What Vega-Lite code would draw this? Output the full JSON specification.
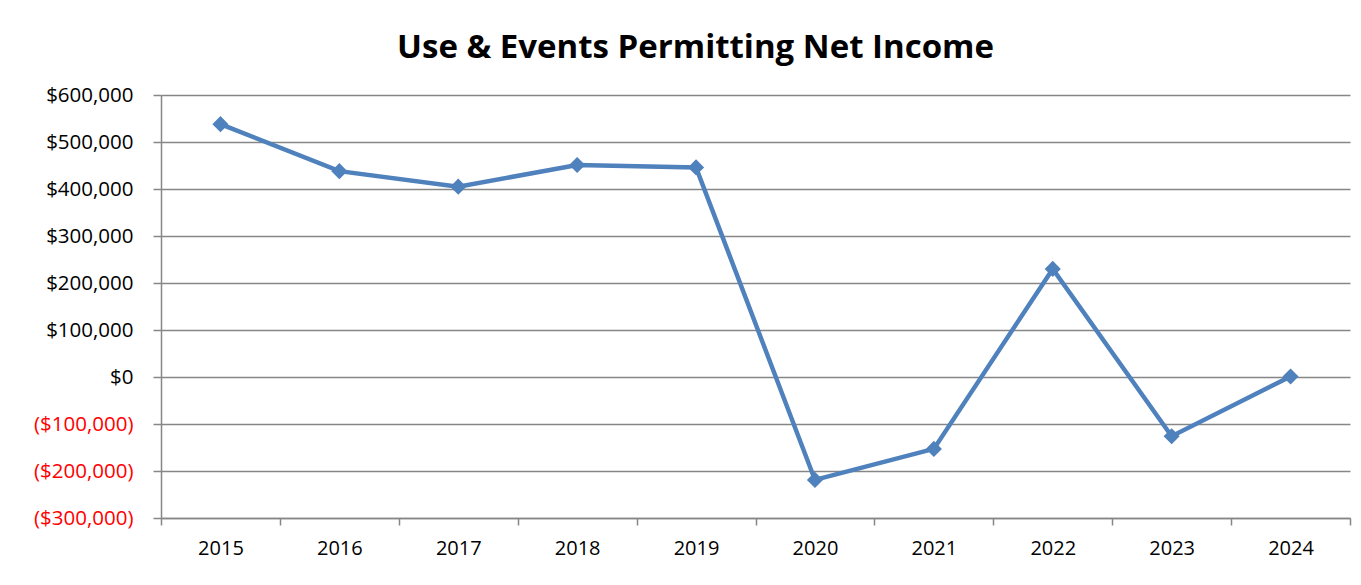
{
  "$schema": "https://vega.github.io/schema/vega-lite/v6.json",
  "autosize": {"type": "none"},
  "width": 1189,
  "height": 423,
  "padding": {"left": 161, "top": 95, "right": 11, "bottom": 67},
  "background": "white",
  "title": {
    "text": "Use & Events Permitting Net Income",
    "font": "Open Sans",
    "fontSize": 33,
    "fontWeight": "bold",
    "color": "black",
    "anchor": "middle",
    "dx": -60,
    "offset": 20
  },
  "data": {
    "values": [
      {"year": "2015", "income": 538000},
      {"year": "2016", "income": 438000},
      {"year": "2017", "income": 405000},
      {"year": "2018", "income": 451000},
      {"year": "2019", "income": 446000},
      {"year": "2020", "income": -219000},
      {"year": "2021", "income": -153000},
      {"year": "2022", "income": 230000},
      {"year": "2023", "income": -126000},
      {"year": "2024", "income": 1000}
    ]
  },
  "encoding": {
    "x": {
      "field": "year",
      "type": "ordinal",
      "scale": {"paddingInner": 0, "paddingOuter": 0},
      "axis": {
        "title": null,
        "labelAngle": 0,
        "tickBand": "extent",
        "tickSize": 7,
        "tickColor": "#868686",
        "tickWidth": 1.5,
        "domainColor": "#868686",
        "domainWidth": 1.5,
        "labelFont": "Open Sans",
        "labelFontSize": 20,
        "labelColor": "black",
        "labelPadding": 13,
        "grid": false
      }
    },
    "y": {
      "field": "income",
      "type": "quantitative",
      "scale": {"domain": [-300000, 600000], "nice": false, "zero": false},
      "axis": {
        "title": null,
        "values": [-300000, -200000, -100000, 0, 100000, 200000, 300000, 400000, 500000, 600000],
        "labelExpr": "datum.value < 0 ? '($' + format(-datum.value, ',') + ')' : '$' + format(datum.value, ',')",
        "labelColor": {"condition": {"test": "datum.value < 0", "value": "#ff0000"}, "value": "black"},
        "labelFont": "Open Sans",
        "labelFontSize": 20.5,
        "labelPadding": 20,
        "tickSize": 8,
        "tickColor": "#868686",
        "tickWidth": 1.5,
        "domainColor": "#868686",
        "domainWidth": 1.5,
        "grid": true,
        "gridColor": "#868686",
        "gridWidth": 1.6
      }
    }
  },
  "layer": [
    {"mark": {"type": "line", "color": "#4F81BD", "strokeWidth": 4.5}},
    {"mark": {"type": "point", "shape": "diamond", "filled": true, "color": "#4F81BD", "size": 260, "opacity": 1}}
  ],
  "config": {"view": {"stroke": null}}
}
